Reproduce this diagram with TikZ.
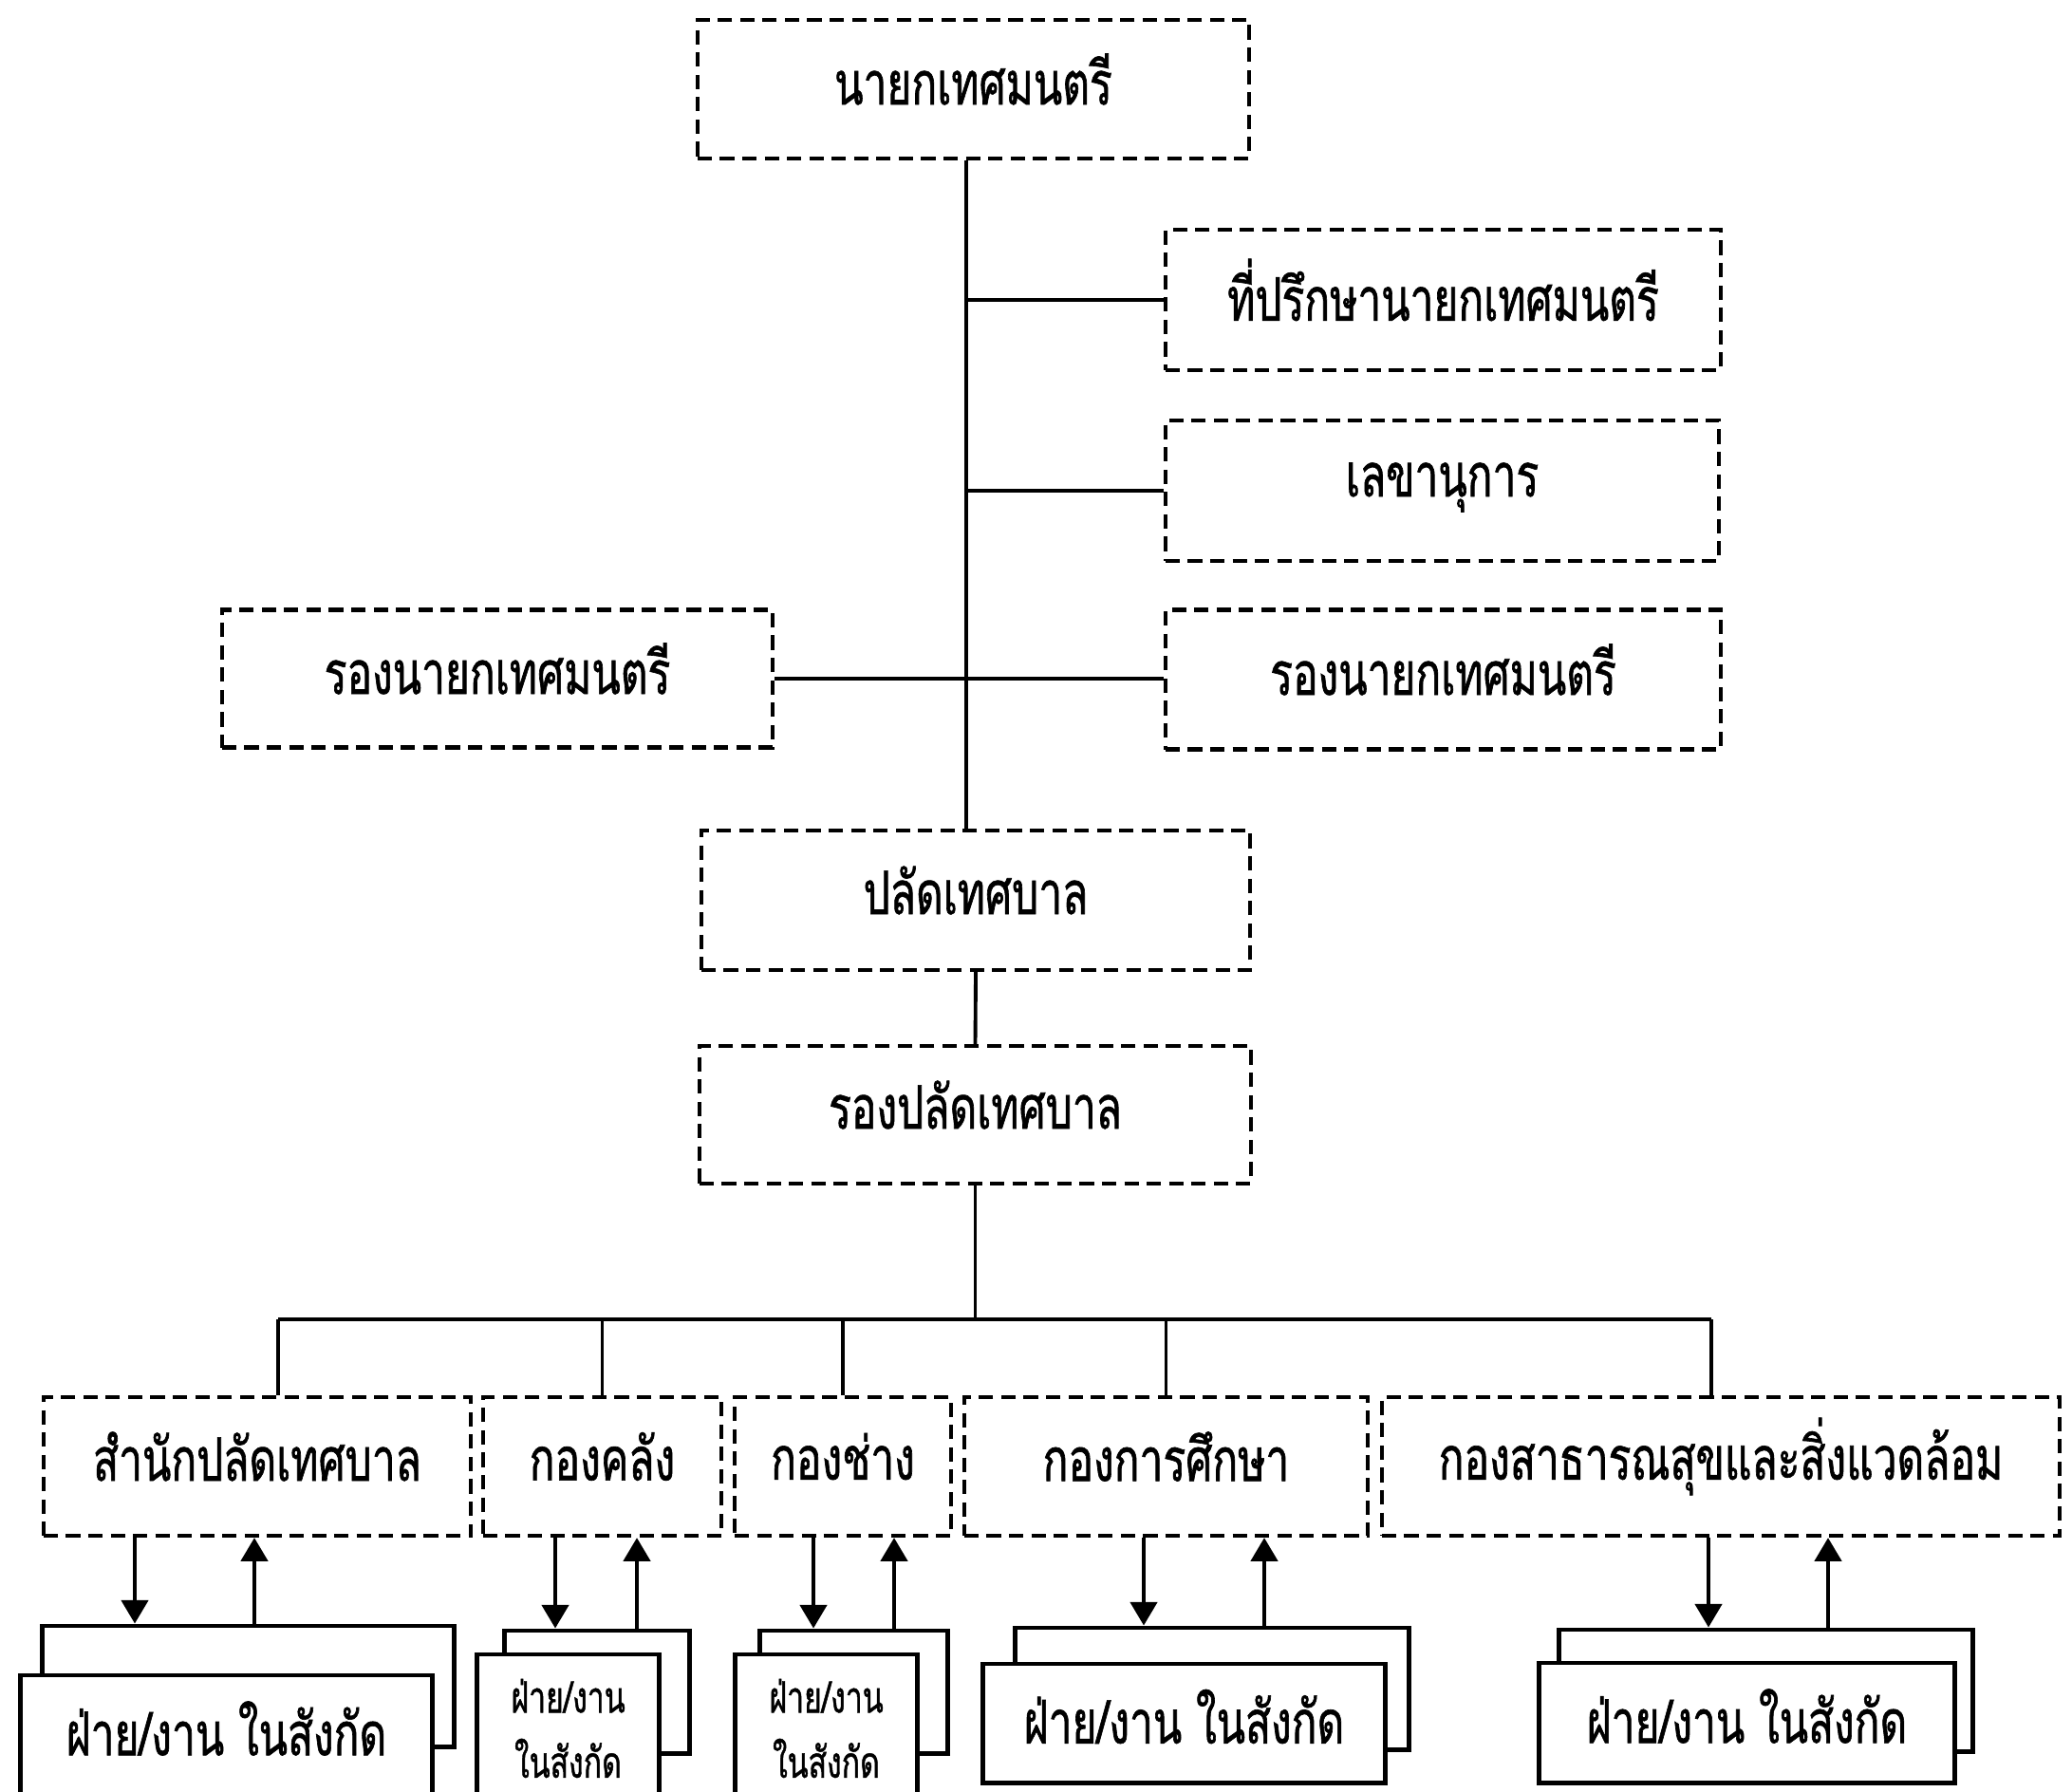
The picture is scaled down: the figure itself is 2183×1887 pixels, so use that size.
\documentclass[tikz,border=0pt]{standalone}
\usepackage{fontspec}
\newfontfamily\thaifont[Script=Thai,FakeStretch=0.7,FakeBold=1]{Loma}
\usetikzlibrary{arrows.meta}
\newcommand\tx[2][3pt]{\raisebox{#1}[\height][\depth]{#2}}
\begin{document}
\begin{tikzpicture}[x=0.01cm,y=-0.01cm,
  dbox/.style={draw, line width=1.2pt, dash pattern=on 4.3pt off 2.4pt,
    inner sep=0pt, font=\thaifont\fontsize{18}{20}\selectfont},
  sbox/.style={draw, line width=1.4pt, fill=white, inner sep=0pt,
    font=\thaifont\fontsize{18}{20}\selectfont},
  smallbox/.style={sbox, align=center, font=\thaifont\fontsize{13}{19.5}\selectfont},
  bbox/.style={draw, line width=1.4pt},
  conn/.style={line width=1.1pt},
  arr/.style={line width=1.1pt, -{Triangle[length=7pt,width=8pt]}}]
\clip (0,0) rectangle (2183,1887);
\fill[white] (0,0) rectangle (2183,1887);

% top level
\node[dbox, minimum width=5.81cm, minimum height=1.46cm] (T) at (1025.5,94) {\tx{นายกเทศมนตรี}};
\node[dbox, minimum width=5.85cm, minimum height=1.48cm] (ADV) at (1520.5,316) {\tx{ที่ปรึกษานายกเทศมนตรี}};
\node[dbox, minimum width=5.83cm, minimum height=1.48cm] (SEC) at (1519.5,517) {\tx[1pt]{เลขานุการ}};
\node[dbox, minimum width=5.85cm, minimum height=1.47cm] (RDEP) at (1520.5,716) {\tx{รองนายกเทศมนตรี}};
\node[dbox, minimum width=5.80cm, minimum height=1.45cm] (LDEP) at (524,715) {\tx{รองนายกเทศมนตรี}};
\node[dbox, minimum width=5.78cm, minimum height=1.47cm] (P) at (1028,948.5) {\tx{ปลัดเทศบาล}};
\node[dbox, minimum width=5.81cm, minimum height=1.45cm] (RP) at (1027.5,1174.5) {\tx{รองปลัดเทศบาล}};

\coordinate (spine) at (1018,0);
\draw[conn] (T.south -| spine) -- (P.north -| spine);
\draw[conn] (spine |- ADV.west) -- (ADV.west);
\draw[conn] (spine |- SEC.west) -- (SEC.west);
\draw[conn] (LDEP.east) -- (LDEP.east -| RDEP.west);
\draw[conn] (P.south) -- (RP.north);

% departments
\node[dbox, minimum width=4.50cm, minimum height=1.46cm] (D1) at (271,1545) {\tx{สำนักปลัดเทศบาล}};
\node[dbox, minimum width=2.51cm, minimum height=1.46cm] (D2) at (634.5,1545) {\tx{กองคลัง}};
\node[dbox, minimum width=2.28cm, minimum height=1.46cm] (D3) at (888,1545) {\tx{กองช่าง}};
\node[dbox, minimum width=4.25cm, minimum height=1.46cm] (D4) at (1228.5,1545) {\tx{กองการศึกษา}};
\node[dbox, minimum width=7.14cm, minimum height=1.46cm] (D5) at (1813,1545) {\tx{กองสาธารณสุขและสิ่งแวดล้อม}};

\coordinate (busL) at (293,1390);
\coordinate (busR) at (1803,1390);
\draw[conn] (RP.south) -- (RP.south |- busL);
\draw[conn] (busL) -- (busR);
\draw[conn] (busL) -- (busL |- D1.north);
\draw[conn] (busL -| D2.north) -- (D2.north);
\draw[conn] (busL -| D3.north) -- (D3.north);
\draw[conn] (busL -| D4.north) -- (D4.north);
\draw[conn] (busR) -- (busR |- D5.north);

% sub units: back boxes
\node[bbox, minimum width=4.33cm, minimum height=1.27cm] (B1) at (261.5,1776.5) {};
\node[bbox, minimum width=1.94cm, minimum height=1.29cm] (B2) at (629,1782.5) {};
\node[bbox, minimum width=1.97cm, minimum height=1.29cm] (B3) at (899.5,1782.5) {};
\node[bbox, minimum width=4.14cm, minimum height=1.28cm] (B4) at (1277,1779) {};
\node[bbox, minimum width=4.35cm, minimum height=1.28cm] (B5) at (1860.5,1781) {};

% front boxes
\node[sbox, minimum width=4.33cm, minimum height=1.26cm] (F1) at (238.5,1828) {\tx[2pt]{ฝ่าย/งาน ในสังกัด}};
\node[smallbox, minimum width=1.91cm, minimum height=1.70cm] (F2) at (598.5,1828) {\tx[2pt]{ฝ่าย/งาน}\\\tx[2pt]{ในสังกัด}};
\node[smallbox, minimum width=1.91cm, minimum height=1.70cm] (F3) at (870.5,1828) {\tx[2pt]{ฝ่าย/งาน}\\\tx[2pt]{ในสังกัด}};
\node[sbox, minimum width=4.23cm, minimum height=1.25cm] (F4) at (1247.5,1815.5) {\tx[2pt]{ฝ่าย/งาน ในสังกัด}};
\node[sbox, minimum width=4.37cm, minimum height=1.26cm] (F5) at (1840.5,1815) {\tx[2pt]{ฝ่าย/งาน ในสังกัด}};

% arrows
\draw[arr] (D1.south -| 142,0) -- (B1.north -| 142,0);
\draw[arr] (B1.north -| 268,0) -- (D1.south -| 268,0);
\draw[arr] (D2.south -| 585,0) -- (B2.north -| 585,0);
\draw[arr] (B2.north -| 671,0) -- (D2.south -| 671,0);
\draw[arr] (D3.south -| 857,0) -- (B3.north -| 857,0);
\draw[arr] (B3.north -| 942,0) -- (D3.south -| 942,0);
\draw[arr] (D4.south -| 1205,0) -- (B4.north -| 1205,0);
\draw[arr] (B4.north -| 1332,0) -- (D4.south -| 1332,0);
\draw[arr] (D5.south -| 1800,0) -- (B5.north -| 1800,0);
\draw[arr] (B5.north -| 1926,0) -- (D5.south -| 1926,0);
\end{tikzpicture}
\end{document}
